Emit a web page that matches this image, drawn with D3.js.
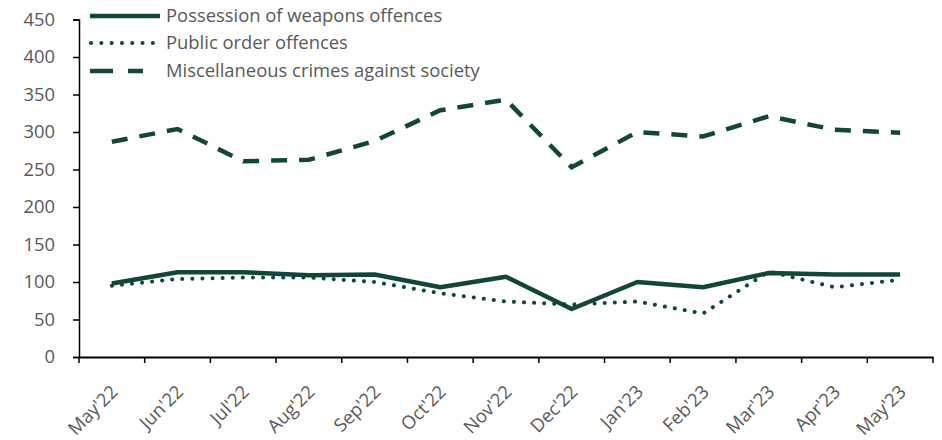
<!DOCTYPE html>
<html><head><meta charset="utf-8">
<script src="https://cdn.jsdelivr.net/npm/d3@7"></script>
<style>body{margin:0;background:#fff}svg{display:block}</style>
</head><body>
<svg id="c" width="942" height="440"></svg>
<script>
const months = ["May'22","Jun'22","Jul'22","Aug'22","Sep'22","Oct'22","Nov'22","Dec'22","Jan'23","Feb'23","Mar'23","Apr'23","May'23"];
const weapons = [98,113,113,109,110,93,107,64,100,93,112,110,110];
const publicOrder = [95,104,106,106,100,85,74,70,74,58,114,93,103];
const misc = [287,304,261,263,288,329,343,253,300,294,321,303,299];
const yTicks = [0,50,100,150,200,250,300,350,400,450];
const seriesNames = ["Possession of weapons offences","Public order offences","Miscellaneous crimes against society"];

const color = "#12463b";
const svg = d3.select("#c");
const m = {l:79, r:9, t:19.5, b:83};
const W = 942, H = 440;
const x = d3.scaleBand().domain(months).range([m.l, W - m.r]);
const y = d3.scaleLinear().domain([0,450]).range([H - m.b, m.t]);
const font = "'Open Sans', sans-serif";
const fs = 18.4;

// y axis
const ya = svg.append("g").attr("transform",`translate(${m.l},0)`)
  .call(d3.axisLeft(y).tickValues(yTicks).tickSize(6).tickPadding(18));
ya.selectAll("text").attr("font-size",fs).attr("fill","#595959").attr("font-family",font);
ya.selectAll("line,path").attr("stroke","#000").attr("stroke-width",1.5);

// x axis
const xa = svg.append("g").attr("transform",`translate(0,${H - m.b})`)
  .call(d3.axisBottom(x).tickSize(0).tickSizeOuter(0));
xa.select("path").attr("stroke","#000").attr("stroke-width",2);
xa.selectAll(".tick line").remove();
const bounds = months.map(d => x(d)).concat([x(months[months.length-1]) + x.bandwidth()]);
xa.selectAll(".bt").data(bounds).enter().append("line")
  .attr("x1",d=>d).attr("x2",d=>d).attr("y1",0).attr("y2",6)
  .attr("stroke","#000").attr("stroke-width",1.5);
xa.selectAll(".tick text")
  .attr("font-size",fs).attr("fill","#595959").attr("font-family",font)
  .attr("text-anchor","end").attr("dy",0).attr("y",0)
  .attr("transform","translate(7,36) rotate(-45)");

const cx = d => x(d) + x.bandwidth()/2;
const line = d3.line().x((v,i)=>cx(months[i])).y(v=>y(v));

svg.append("path").datum(misc).attr("d",line).attr("fill","none")
  .attr("stroke",color).attr("stroke-width",4.5).attr("stroke-dasharray","16,12");
svg.append("path").datum(publicOrder).attr("d",line).attr("fill","none")
  .attr("stroke",color).attr("stroke-width",4).attr("stroke-linecap","round").attr("stroke-dasharray","0.1,10");
svg.append("path").datum(weapons).attr("d",line).attr("fill","none")
  .attr("stroke",color).attr("stroke-width",4.5).attr("stroke-linejoin","round");

// legend
const lg = svg.append("g");
const rows = [16,43,71];
const legX = [[90,160],[91,153],[90,143]];
const styles = [
  {w:4.5, dash:null, cap:"butt"},
  {w:4, dash:"0.1,10.2", cap:"round"},
  {w:4.5, dash:"23,15", cap:"butt"}
];
seriesNames.forEach((n,i)=>{
  lg.append("line").attr("x1",legX[i][0]).attr("x2",legX[i][1]).attr("y1",rows[i]).attr("y2",rows[i])
    .attr("stroke",color).attr("stroke-width",styles[i].w)
    .attr("stroke-linecap",styles[i].cap)
    .attr("stroke-dasharray",styles[i].dash);
  lg.append("text").attr("x",166).attr("y",rows[i]).attr("dy","0.35em")
    .attr("font-size",fs).attr("fill","#595959").attr("font-family",font).text(n);
});
</script>
</body></html>
